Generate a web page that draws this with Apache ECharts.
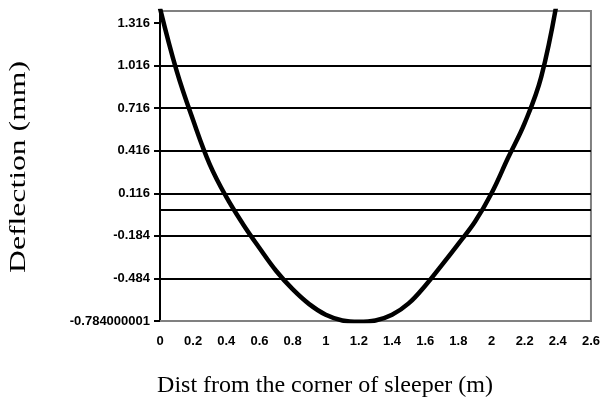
<!DOCTYPE html>
<html><head><meta charset="utf-8">
<script src="https://cdn.jsdelivr.net/npm/echarts@6/dist/echarts.min.js"></script>
<style>html,body{margin:0;padding:0;background:#fff}#c{width:603px;height:403px}</style>
</head><body><div id="c"></div>
<script>
// Data
var xValues = [0, 0.1, 0.2, 0.3, 0.4, 0.5, 0.6, 0.7, 0.8, 0.9, 1.0, 1.1, 1.2, 1.3, 1.4, 1.5, 1.6, 1.7, 1.8, 1.9, 2.0, 2.1, 2.2, 2.3, 2.4];
var deflection = [1.42, 0.98, 0.63, 0.32, 0.09, -0.10, -0.27, -0.43, -0.56, -0.665, -0.74, -0.78, -0.79, -0.78, -0.74, -0.66, -0.535, -0.39, -0.24, -0.085, 0.116, 0.366, 0.61, 0.936, 1.5];
var yTicks = [-0.784, -0.484, -0.184, 0.116, 0.416, 0.716, 1.016, 1.316];
var yTickLabels = ['-0.784000001', '-0.484', '-0.184', '0.116', '0.416', '0.716', '1.016', '1.316'];
var xTicks = [0, 0.2, 0.4, 0.6, 0.8, 1, 1.2, 1.4, 1.6, 1.8, 2, 2.2, 2.4, 2.6];
var xTickLabels = ['0', '0.2', '0.4', '0.6', '0.8', '1', '1.2', '1.4', '1.6', '1.8', '2', '2.2', '2.4', '2.6'];
var xTitle = 'Dist from the corner of sleeper (m)';
var yTitle = 'Deflection (mm)';

var chart = echarts.init(document.getElementById('c'), null, {renderer: 'canvas'});
var pts = xValues.map(function (x, i) { return [x, deflection[i]]; });
var lblFont = {fontFamily: 'Liberation Sans', fontWeight: 'bold', fontSize: 13, color: '#000'};

chart.setOption({
  animation: false,
  grid: {left: 160, right: 11, top: 11, bottom: 82, show: true, borderColor: '#808080', borderWidth: 2, backgroundColor: 'transparent'},
  xAxis: {
    type: 'value', min: 0, max: 2.6,
    axisLine: {show: true, onZero: false, lineStyle: {color: '#808080', width: 2}},
    axisTick: {show: false},
    splitLine: {show: false},
    axisLabel: Object.assign({margin: 14, customValues: xTicks, formatter: function (v) {
      var i = xTicks.findIndex(function (t) { return Math.abs(t - v) < 1e-6; });
      return i >= 0 ? xTickLabels[i] : '';
    }}, lblFont)
  },
  yAxis: {
    type: 'value', min: -0.784, max: 1.4, interval: 0.3,
    axisLine: {show: true, lineStyle: {color: '#000', width: 2}},
    axisTick: {show: true, length: 6, customValues: yTicks, lineStyle: {color: '#000', width: 2}},
    splitLine: {show: true, showMinLine: false, showMaxLine: false, lineStyle: {color: '#000', width: 2}},
    axisLabel: Object.assign({margin: 10, customValues: yTicks, formatter: function (v) {
      var i = yTicks.findIndex(function (t) { return Math.abs(t - v) < 1e-6; });
      return i >= 0 ? yTickLabels[i] : '';
    }}, lblFont)
  },
  series: [{
    type: 'line', data: pts, smooth: 0.4, showSymbol: false, clip: true,
    lineStyle: {color: '#000', width: 4.5},
    markLine: {silent: true, symbol: ['none', 'none'], label: {show: false},
      lineStyle: {color: '#000', width: 2, type: 'solid'}, data: [{yAxis: 0}]}
  }],
  graphic: [
    {type: 'text', x: 325, y: 386, style: {text: xTitle, font: '24px "Liberation Serif"', fill: '#000', textAlign: 'center', textVerticalAlign: 'middle'}},
    {type: 'text', x: 19, y: 167, rotation: Math.PI / 2, scaleX: 1.32, style: {text: yTitle, font: '24px "Liberation Serif"', fill: '#000', textAlign: 'center', textVerticalAlign: 'middle'}}
  ]
});
</script></body></html>
